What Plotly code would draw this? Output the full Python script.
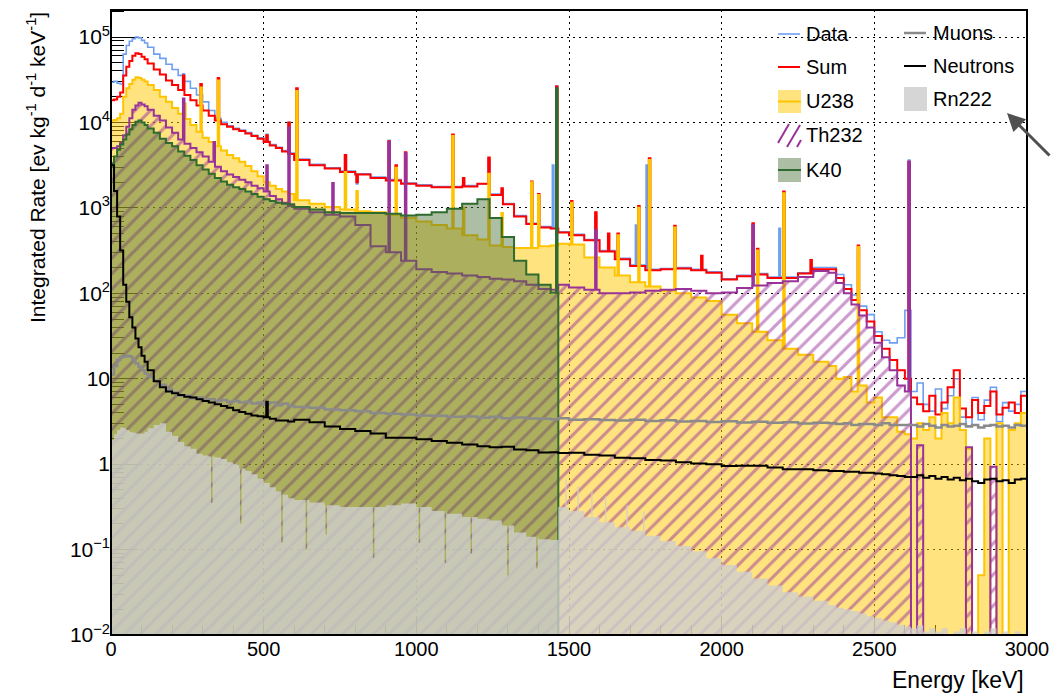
import bisect
import plotly.graph_objects as go

FONT = "Liberation Sans, Arial, Helvetica, sans-serif"

# ---------------- data ----------------
# histogram bin edges [keV]
edges_kev = [0, 10, 20, 30, 40, 50, 60, 70, 80, 90,
             100, 110, 120, 140, 160, 180, 200, 220, 240, 260,
             280, 300, 320, 340, 360, 380, 400, 420, 440, 460,
             480, 500, 520, 540, 560, 580, 600, 650, 700, 750,
             800, 850, 900, 950, 1000, 1050, 1100, 1150, 1200, 1240,
             1280, 1320, 1360, 1400, 1440, 1465, 1500, 1550, 1600, 1650,
             1700, 1750, 1800, 1850, 1900, 1950, 2000, 2050, 2100, 2150,
             2200, 2250, 2300, 2350, 2375, 2400, 2425, 2450, 2475, 2500,
             2525, 2550, 2575, 2600, 2620, 2640, 2660, 2680, 2700, 2720,
             2740, 2760, 2780, 2800, 2820, 2840, 2860, 2880, 2900, 2920,
             2940, 2960, 2980, 3000]

# continuum rates per bin [ev kg^-1 d^-1 keV^-1]
data_rate = [29500, 30200, 28800, 28200, 63100, 79400, 89100, 95500, 100000, 97700,
             91200, 85100, 75900, 63100, 56200, 47900,
             41700, 35500, 30200, 25100, 20900, 17400, 13800, 11200, 10000, 9120,
             8510, 8130, 7590, 7080, 6610, 6030, 5500, 5130, 4680, 4370,
             3720, 3240, 2950, 2690, 2510, 2290, 2140, 1950, 1860, 1780,
             1780, 1820, 1910, 1450, 1120, 813, 661, 603, 575, 525,
             490, 427, 316, 257, 214, 191, 195, 200, 191, 178,
             148, 162, 170, 155, 155, 174, 200,
             200, 166, 126, 95.5, 70.8, 56.2, 35.5, 28.2, 26.3, 30.2,
             63.1, 7.08, 8.91, 5.01, 4.17, 7.59, 4.47, 6.31, 10.0, 3.55,
             2.82, 6.03, 3.31, 5.62, 7.94, 3.16, 5.25, 4.17, 5.01, 7.08]

sum_rate = [18200, 18600, 20000, 22400, 35500, 44700, 52500, 60300, 64600, 63100,
            58900, 55000, 49000, 41700, 36300, 30900,
            27500, 24000, 20900, 18200, 15800, 13800, 12000, 10500, 9550, 8910,
            8320, 7940, 7410, 6920, 6460, 5890, 5370, 5010, 4570, 4270,
            3630, 3160, 2880, 2630, 2450, 2240, 2090, 1910, 1820, 1740,
            1740, 1780, 1910, 1410, 1100, 794, 646, 589, 575, 513,
            479, 417, 309, 251, 209, 186, 191, 195, 186, 174,
            145, 158, 166, 151, 151, 170, 191,
            191, 151, 112, 83.2, 63.1, 46.8, 31.6, 22.4, 16.6, 12.6,
            10.0, 6.03, 5.01, 4.17, 6.31, 3.80, 5.25, 7.94, 12.6, 4.47,
            3.55, 5.62, 3.98, 4.79, 7.08, 3.80, 4.57, 5.25, 3.98, 6.31]

u238_rate = [10500, 10700, 11200, 12600, 20000, 25100, 28200, 31600, 33900, 33100,
             31600, 30200, 27500, 24000, 20000, 17400,
             14800, 12600, 11000, 9330, 7760, 6610, 5890, 5250, 4680, 4170,
             3800, 3470, 3090, 2690, 2340, 2000, 1820, 1660, 1550, 1450,
             1230, 1120, 1020, 955, 912, 891, 832, 759, 692, 631,
             575, 479, 427, 363, 347, 339, 339, 355, 363, 380,
             372, 263, 200, 162, 135, 120, 107, 100, 89.1, 81.3,
             56.2, 44.7, 35.5, 28.2, 22.4, 19.1, 15.8,
             14.1, 10.0, 10.5, 7.08, 8.32, 5.25, 6.03, 3.55, 3.55, 2.40,
             2.24, 2.00, 3.02, 2.51, 3.55, 2.00, 3.98, 3.02, 6.03, 2.51,
             1.51, 0, 0.05, 2.00, 0, 3.02, 0, 2.51, 3.02, 3.98]

th232_rate = [5010, 5010, 5250, 5750, 7080, 8910, 11200, 14100, 15800, 17000,
              16200, 15500, 14100, 12000, 10500, 8710,
              7590, 6310, 5620, 5010, 4470, 3980, 3470, 3020, 2690, 2450,
              2290, 2140, 2000, 1820, 1700, 1550, 1380, 1260, 1150, 1050,
              977, 891, 832, 794, 631, 355, 302, 240, 191, 178,
              170, 162, 155, 148, 145, 138, 126, 112, 110, 126,
              117, 110, 100, 100, 102, 107, 110, 112, 107, 100,
              102, 115, 123, 132, 138, 155, 182,
              174, 132, 100, 74.1, 55.0, 39.8, 26.3, 17.8, 12.6, 8.32,
              7.08, 0, 1.66, 0, 0, 0, 0, 0, 0, 0,
              1.58, 0, 0, 0, 0.93, 0, 0, 0, 0, 0]

k40_rate = [3310, 3980, 4790, 5500, 6310, 7240, 8320, 9330, 10200, 10500,
            10000, 9330, 8510, 7590, 6460, 5750,
            5250, 4570, 4070, 3630, 3160, 2820, 2510, 2240, 2040, 1860,
            1740, 1660, 1550, 1450, 1350, 1260, 1200, 1150, 1120, 1100,
            1020, 955, 891, 871, 871, 871, 851, 813, 832, 891,
            977, 1120, 1260, 759, 457, 240, 166, 126, 102, 0,
            0, 0, 0, 0, 0, 0, 0, 0, 0, 0,
            0, 0, 0, 0, 0, 0, 0,
            0, 0, 0, 0, 0, 0, 0, 0, 0, 0,
            0, 0, 0, 0, 0, 0, 0, 0, 0, 0,
            0, 0, 0, 0, 0, 0, 0, 0, 0, 0]

muon_rate = [11.2, 14.1, 16.6, 17.8, 18.2, 18.6, 18.2, 16.6, 15.1, 13.8,
             12.6, 11.5, 10.5, 9.55, 8.51, 7.59,
             6.92, 6.31, 6.31, 5.89, 6.03, 5.62, 5.75, 5.50, 5.62, 5.37,
             5.50, 5.25, 5.37, 5.13, 5.25, 5.01, 5.25, 4.90, 5.13, 4.79,
             4.68, 4.57, 4.37, 4.27, 4.17, 3.98, 3.89, 3.80, 3.72, 3.68,
             3.58, 3.62, 3.50, 3.58, 3.45, 3.52, 3.43, 3.40, 3.36, 3.44,
             3.30, 3.35, 3.28, 3.25, 3.30, 3.20, 3.26, 3.15, 3.20, 3.12,
             3.18, 3.08, 3.14, 3.05, 3.10, 3.00, 3.06,
             3.02, 2.95, 3.02, 2.88, 2.95, 2.95, 2.88, 3.02, 2.88, 2.88,
             2.88, 2.88, 2.75, 2.95, 2.82, 2.69, 2.88, 2.75, 2.82, 2.95,
             2.75, 2.88, 2.69, 2.82, 2.88, 2.75, 2.82, 2.69, 2.88, 2.82]

neutron_rate = [3160, 1580, 794, 316, 126, 79.4, 52.5, 39.8, 29.5, 23.4,
                18.6, 15.8, 12.6, 9.33, 7.94, 7.08,
                6.76, 6.46, 6.17, 6.03, 5.75, 5.50, 5.25, 5.01, 4.79, 4.57,
                4.27, 4.07, 3.89, 3.72, 3.63, 3.55, 3.39, 3.24, 3.24, 3.16,
                3.31, 3.09, 2.75, 2.57, 2.45, 2.29, 2.04, 2.04, 1.95, 1.86,
                1.78, 1.70, 1.62, 1.58, 1.60, 1.48, 1.45, 1.37, 1.38, 1.35,
                1.36, 1.29, 1.26, 1.19, 1.17, 1.12, 1.10, 1.05, 1.02, 1.00,
                0.950, 0.955, 0.960, 0.912, 0.870, 0.871, 0.851,
                0.832, 0.832, 0.813, 0.813, 0.794, 0.794, 0.776, 0.759, 0.741, 0.724,
                0.708, 0.708, 0.741, 0.692, 0.724, 0.676, 0.708, 0.661, 0.692, 0.646,
                0.676, 0.631, 0.603, 0.661, 0.676, 0.631, 0.646, 0.603, 0.661, 0.676]

rn222_rate = [1.91, 2.24, 2.51, 2.69, 2.63, 2.51, 2.40, 2.34, 2.29, 2.29,
              2.29, 2.40, 2.63, 2.88, 3.02, 2.40,
              2.14, 1.82, 1.62, 1.51, 1.32, 1.26, 1.23, 1.20, 1.15, 1.05,
              1.00, 0.891, 0.832, 0.759, 0.676, 0.603, 0.537, 0.479, 0.437, 0.398,
              0.380, 0.355, 0.331, 0.316, 0.316, 0.316, 0.331, 0.347, 0.316, 0.282,
              0.263, 0.240, 0.229, 0.219, 0.191, 0.158, 0.141, 0.132, 0.129, 0.316,
              0.282, 0.240, 0.209, 0.182, 0.166, 0.145, 0.126, 0.110, 0.0955, 0.0794,
              0.0661, 0.0550, 0.0457, 0.0380, 0.0316, 0.0282, 0.0251,
              0.0224, 0.0209, 0.0200, 0.0191, 0.0178, 0.0166, 0.0158, 0.0148, 0.0141, 0.0132,
              0.0126, 0.0120, 0.0130, 0.0110, 0.0120, 0.0110, 0.0120, 0.0100, 0.0110, 0.0120,
              0.0100, 0.0110, 0.0100, 0.0110, 0.0120, 0.0100, 0.0110, 0.0100, 0.0110, 0.0100]

# gamma lines: energy [keV] and peak-bin rate
data_peak_kev = [238, 295, 352, 511, 583, 609, 768, 806, 911, 934, 965, 1120, 1155, 1238,
                 1281, 1378, 1401, 1448, 1460, 1509, 1588, 1661, 1720, 1755, 1847, 2103,
                 2190, 2204, 2448, 2614]
data_peak_rate = [37200, 26300, 31600, 7240, 10000, 24500, 3980, 1910, 6170, 3020, 4270, 7080,
                  2000, 3720, 1580, 2000, 1380, 3160, 26900, 1120, 794, 479, 631, 3160, 575,
                  398, 575, 1260, 316, 3630]

sum_peak_kev = [238, 295, 352, 511, 583, 609, 768, 806, 911, 934, 965, 1120, 1155, 1238,
                1281, 1378, 1401, 1460, 1509, 1588, 1630, 1661, 1729, 1764, 1847, 1935,
                2103, 2118, 2204, 2293, 2448, 2614]
sum_peak_rate = [35500, 28200, 33100, 7080, 10000, 25100, 4170, 2000, 6030, 3160, 4470, 7240,
                 2240, 3890, 1700, 2040, 1450, 26300, 1200, 891, 501, 501, 1050, 3800, 617,
                 275, 661, 331, 1550, 245, 363, 3470]

u238_peak_kev = [242, 295, 352, 609, 768, 806, 934, 1120, 1155, 1238, 1281, 1378, 1401,
                 1509, 1661, 1729, 1764, 1847, 2118, 2204, 2448]
u238_peak_rate = [16600, 25700, 30900, 23400, 2630, 1580, 2950, 6920, 1000, 2510, 871, 2000,
                  1410, 1150, 479, 1000, 3630, 589, 316, 1480, 347]

th232_peak_kev = [238, 338, 511, 583, 727, 911, 965, 1588, 2103, 2614]
th232_peak_rate = [19100, 5890, 3160, 8710, 1950, 5890, 4370, 550, 631, 3470]

k40_peak_kev = [1460]
k40_peak_rate = [25100]

neutron_peak_kev = [511]
neutron_peak_rate = [5.37]

# narrow Rn222 fluctuations (dips and spikes)
rn222_peak_kev = [330, 425, 560, 640, 705, 860, 1010, 1095, 1180, 1300, 1395,
                  1490, 1530, 1575, 1620, 1690, 1745]
rn222_peak_rate = [0.35, 0.20, 0.12, 0.10, 0.15, 0.08, 0.12, 0.07, 0.09, 0.05, 0.06,
                   0.66, 0.55, 0.48, 0.42, 0.33, 0.28]

empty = []

# axis decorations
x_ticks = [0, 500, 1000, 1500, 2000, 2500, 3000]
y_tickvals = [1e-2, 1e-1, 1, 10, 1e2, 1e3, 1e4, 1e5]
y_ticktext = ["10<sup>\u22122</sup>", "10<sup>\u22121</sup>", "1", "10",
              "10<sup>2</sup>", "10<sup>3</sup>", "10<sup>4</sup>", "10<sup>5</sup>"]
y_minor = [m * 10 ** k for k in range(-2, 6) for m in range(2, 10)]

PEAK_WIDTH = 5.0   # keV, width of a line bin
FLOOR = 1e-6       # empty bins (drawn below the axis range on the log scale)

for arr in (data_rate, sum_rate, u238_rate, th232_rate, k40_rate, muon_rate,
            neutron_rate, rn222_rate):
    assert len(arr) == len(edges_kev) - 1, len(arr)

# figure geometry (pixels)
W, H = 1051, 694
ML, MR, MT, MB = 111, 24, 10, 59
PW, PH = W - ML - MR, H - MT - MB


def px(x):
    return (x - ML) / PW


def py(y):
    return (H - MB - y) / PH


def build_hist(edges, rates, peak_kev, peak_rate):
    half = PEAK_WIDTH / 2.0
    bounds = set(edges)
    for e in peak_kev:
        bounds.add(e - half)
        bounds.add(e + half)
    bounds = sorted(bounds)
    xs, ys = [], []
    for lo, hi in zip(bounds[:-1], bounds[1:]):
        mid = 0.5 * (lo + hi)
        val = None
        for e, r in zip(peak_kev, peak_rate):
            if e - half <= mid <= e + half:
                val = r
        if val is None:
            i = min(bisect.bisect_right(edges, mid) - 1, len(rates) - 1)
            val = rates[i]
        xs.append(lo)
        ys.append(max(val, FLOOR))
    xs.append(bounds[-1])
    ys.append(ys[-1])
    return xs, ys


fig = go.Figure()

COL = dict(data="#6e9ff0", sum="#ff0000", u238="#ffc400", u238_fill="rgba(255,200,0,0.5)",
           th232="#993399", k40="#2f6b2f", k40_fill="rgba(75,114,55,0.46)",
           rn222_fill="rgba(207,207,207,0.79)", muons="#8a8a8a", neutrons="#000000")


def add(name, rates, pk, pr, color, width, fill=None, fillcolor=None, pattern=None):
    x, y = build_hist(edges_kev, rates, pk, pr)
    kw = dict(x=x, y=y, mode="lines", name=name, showlegend=False, hoverinfo="skip",
              line=dict(shape="hv", color=color, width=width))
    if fill:
        kw["fill"] = fill
        kw["fillcolor"] = fillcolor
    if pattern:
        kw["fillpattern"] = pattern
    fig.add_trace(go.Scatter(**kw))


add("Data", data_rate, data_peak_kev, data_peak_rate, COL["data"], 1.6)
add("Sum", sum_rate, sum_peak_kev, sum_peak_rate, COL["sum"], 2.0)
add("U238", u238_rate, u238_peak_kev, u238_peak_rate, COL["u238"], 2.0,
    fill="tozeroy", fillcolor=COL["u238_fill"])
add("Th232", th232_rate, th232_peak_kev, th232_peak_rate, COL["th232"], 2.0,
    fill="tozeroy", fillcolor="rgba(0,0,0,0)",
    pattern=dict(shape="/", fgcolor=COL["th232"], bgcolor="rgba(0,0,0,0)",
                 size=11, solidity=0.28, fillmode="overlay"))
add("K40", k40_rate, k40_peak_kev, k40_peak_rate, COL["k40"], 2.0,
    fill="tozeroy", fillcolor=COL["k40_fill"])
add("Rn222", rn222_rate, rn222_peak_kev, rn222_peak_rate, "rgba(207,207,207,0)", 0.5,
    fill="tozeroy", fillcolor=COL["rn222_fill"])
add("Muons", muon_rate, empty, empty, COL["muons"], 2.5)
add("Neutrons", neutron_rate, neutron_peak_kev, neutron_peak_rate, COL["neutrons"], 2.0)

# ---------------- legend (two columns, drawn as keys + text) ----------------
shapes = []
annotations = []


def key_text(label, x, y):
    annotations.append(dict(text=label, xref="paper", yref="paper", x=px(x), y=py(y),
                            xanchor="left", yanchor="middle", showarrow=False,
                            font=dict(family=FONT, size=20, color="black")))


def key_line(x0, x1, y, color, width):
    shapes.append(dict(type="line", xref="paper", yref="paper", x0=px(x0), x1=px(x1),
                       y0=py(y), y1=py(y), line=dict(color=color, width=width),
                       layer="above"))


def key_box(x0, y0, x1, y1, fill):
    shapes.append(dict(type="rect", xref="paper", yref="paper", x0=px(x0), x1=px(x1),
                       y0=py(y1), y1=py(y0), fillcolor=fill, line=dict(width=0),
                       layer="above"))


# column 1
key_line(778, 800, 34, COL["data"], 1.6)
key_text("Data", 804, 34)
key_line(778, 800, 67, COL["sum"], 2.0)
key_text("Sum", 804, 67)
key_box(778, 90, 801, 113, COL["u238_fill"])
key_line(778, 801, 101.5, COL["u238"], 2.0)
key_text("U238", 804, 101)
for (a, b, c, d) in [(778, 143, 789, 124), (787, 147, 800, 125), (797, 147, 801, 140)]:
    shapes.append(dict(type="line", xref="paper", yref="paper", x0=px(a), y0=py(b),
                       x1=px(c), y1=py(d), line=dict(color=COL["th232"], width=2),
                       layer="above"))
key_text("Th232", 804, 135)
key_box(778, 158, 801, 182, COL["k40_fill"])
key_line(778, 801, 170, COL["k40"], 2.0)
key_text("K40", 804, 170)
# column 2
key_line(904, 926, 33, COL["muons"], 2.5)
key_text("Muons", 931, 33)
key_line(904, 926, 66, COL["neutrons"], 2.0)
key_text("Neutrons", 931, 66)
key_box(904, 87, 927, 111, "rgba(207,207,207,0.85)")
key_text("Rn222", 931, 99)

# frame
shapes.append(dict(type="rect", xref="paper", yref="paper", x0=0, x1=1, y0=0, y1=1,
                   line=dict(color="black", width=2), layer="above"))

# axis titles and arrow
annotations += [
    dict(text="Integrated Rate [ev kg<sup>-1</sup> d<sup>-1</sup> keV<sup>-1</sup>]",
         xref="paper", yref="paper", x=px(36), y=py(168), textangle=-90,
         showarrow=False, xanchor="center", yanchor="middle",
         font=dict(family=FONT, size=21, color="black")),
    dict(text="Energy [keV]", xref="paper", yref="paper", x=px(1026), y=py(680),
         xanchor="right", yanchor="middle", showarrow=False,
         font=dict(family=FONT, size=23, color="black")),
    dict(text="", xref="paper", yref="paper", x=px(1007), y=py(113), showarrow=True,
         ax=52, ay=44, arrowhead=2, arrowsize=1.2, arrowwidth=3,
         arrowcolor="#505050", standoff=0),
]

grid = dict(showgrid=True, gridcolor="black", gridwidth=1, griddash="2px,4px",
            zeroline=False, showline=False, layer="below traces",
            tickcolor="black", tickwidth=1, ticks="inside")

fig.update_layout(
    width=W, height=H,
    margin=dict(l=ML, r=MR, t=MT, b=MB, autoexpand=False),
    paper_bgcolor="white", plot_bgcolor="white",
    font=dict(family=FONT, size=20, color="black"),
    showlegend=False,
    xaxis=dict(range=[0, 3000], tickvals=x_ticks, ticklen=19,
               tickfont=dict(family=FONT, size=20, color="black"),
               minor=dict(ticks="inside", ticklen=10, dtick=100, tickcolor="black",
                          showgrid=False),
               **grid),
    yaxis=dict(type="log", range=[-2, 5.316], tickvals=y_tickvals, ticktext=y_ticktext,
               ticklen=27, tickfont=dict(family=FONT, size=21, color="black"),
               minor=dict(ticks="inside", ticklen=13, tickvals=y_minor, tickcolor="black",
                          showgrid=False),
               **grid),
    shapes=shapes,
    annotations=annotations,
)

fig.write_html("out.html")
